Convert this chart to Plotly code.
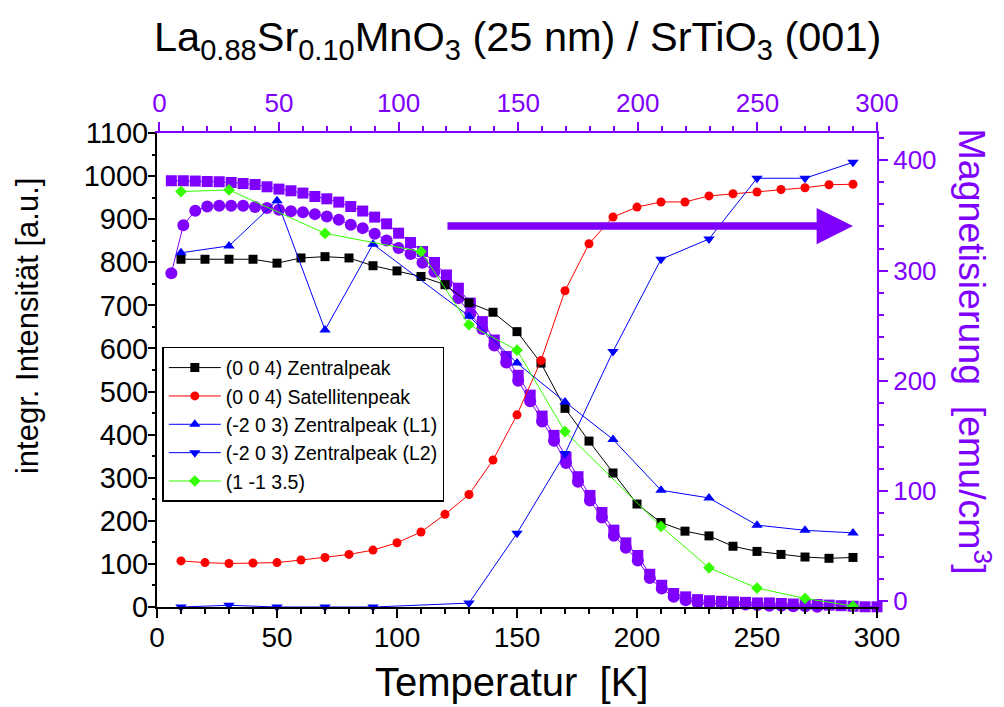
import plotly.graph_objects as go

# ---------------- data ----------------
T_black = [10, 20, 30, 40, 50, 60, 70, 80, 90, 100, 110, 120, 130, 140, 150, 160, 170, 180, 190, 200,
           210, 220, 230, 240, 250, 260, 270, 280, 290]
I_black = [807, 807, 807, 807, 798, 810, 813, 810, 792, 780, 767, 748, 706, 684, 639, 566, 461, 385, 311, 239,
           196, 176, 165, 141, 129, 122, 116, 113, 115]

T_red = [10, 20, 30, 40, 50, 60, 70, 80, 90, 100, 110, 120, 130, 140, 150, 160, 170, 180, 190, 200,
         210, 220, 230, 240, 250, 260, 270, 280, 290]
I_red = [107, 103, 101, 102, 103, 109, 115, 122, 132, 149, 174, 215, 261, 341, 446, 572, 734, 843, 905, 928,
         940, 940, 954, 959, 963, 969, 973, 980, 981]

T_L1 = [10, 30, 50, 70, 90, 130, 150, 170, 190, 210, 230, 250, 270, 290]
I_L1 = [822, 838, 943, 643, 842, 675, 566, 476, 389, 271, 253, 190, 178, 172]

T_L2 = [10, 30, 50, 70, 90, 130, 150, 170, 190, 210, 230, 250, 270, 290]
I_L2 = [0, 4, 0, 0, 0, 9, 171, 356, 593, 807, 854, 995, 995, 1032]

T_green = [10, 30, 70, 110, 130, 150, 170, 210, 230, 250, 270, 290]
I_green = [964, 968, 867, 825, 655, 596, 407, 187, 91, 44, 20, 2]

T_M = [5, 10, 15, 20, 25, 30, 35, 40, 45, 50, 55, 60, 65, 70, 75, 80, 85, 90, 95, 100,
       105, 110, 115, 120, 125, 130, 135, 140, 145, 150, 155, 160, 165, 170, 175, 180, 185, 190, 195, 200,
       205, 210, 215, 220, 225, 230, 235, 240, 245, 250, 255, 260, 265, 270, 275, 280, 285, 290, 295, 300]
M_square = [381.5, 381.5, 381.2, 380.8, 380.6, 379.9, 379.0, 378.1, 376.0, 373.9, 372.4, 370.3, 367.2, 365.1,
            362.1, 358.1, 354.0, 348.5, 342.4, 333.9, 325.4, 317.3, 307.3, 296.0, 284.0, 270.5, 253.7, 237.0,
            222.0, 205.0, 187.0, 168.0, 150.5, 130.5, 113.0, 96.0, 80.5, 64.5, 53.0, 41.5, 24.5, 14.5, 7.0,
            4.0, 1.5, 0.5, 0.0, -0.5, -1.0, -1.5, -1.5, -2.0, -2.5, -2.5, -3.0, -3.5, -4.0, -4.5, -5.0, -5.0]
M_circle = [297.6, 341.2, 354.2, 358.1, 358.8, 358.8, 358.8, 357.6, 356.7, 355.1, 353.9, 353.0, 351.2, 349.0,
            346.0, 341.5, 338.5, 333.3, 327.2, 320.5, 315.0, 307.0, 299.0, 288.0, 275.0, 261.0, 247.0, 232.0,
            216.5, 200.0, 181.5, 163.0, 145.5, 125.5, 108.5, 91.5, 76.0, 59.5, 48.5, 37.0, 21.0, 11.5, 4.0,
            1.0, -1.5, -2.0, -2.0, -2.5, -3.0, -3.5, -4.0, -4.0, -4.5, -4.5, -5.0, -5.5, -6.0, -6.5, -7.0, -6.5]

X_TICKS = [0, 50, 100, 150, 200, 250, 300]

# ---------------- style ----------------
PURPLE = '#8000FF'
FONT = 'Liberation Sans, Arial, sans-serif'

fig = go.Figure()

# magnetisation (drawn first -> behind)
fig.add_trace(go.Scatter(x=T_M, y=M_square, xaxis='x', yaxis='y', mode='lines+markers',
                         marker=dict(symbol='square', size=11, color=PURPLE),
                         line=dict(color=PURPLE, width=1), showlegend=False, cliponaxis=False))
fig.add_trace(go.Scatter(x=T_M, y=M_circle, xaxis='x', yaxis='y', mode='lines+markers',
                         marker=dict(symbol='circle', size=12, color=PURPLE),
                         line=dict(color=PURPLE, width=1), showlegend=False, cliponaxis=False))

series = [
    ('(0 0 4) Zentralpeak', T_black, I_black, 'black', 'square', 9),
    ('(0 0 4) Satellitenpeak', T_red, I_red, '#FF0000', 'circle', 9),
    ('(-2 0 3) Zentralpeak (L1)', T_L1, I_L1, '#0000FF', 'triangle-up', 10),
    ('(-2 0 3) Zentralpeak (L2)', T_L2, I_L2, '#0000FF', 'triangle-down', 10),
    ('(1 -1 3.5)', T_green, I_green, '#33FF00', 'diamond', 9),
]
for name, xs, ys, col, sym, sz in series:
    fig.add_trace(go.Scatter(x=xs, y=ys, xaxis='x2', yaxis='y2', mode='lines+markers', name=name,
                             marker=dict(symbol=sym, size=sz, color=col),
                             line=dict(color=col, width=1), cliponaxis=False))

def axis_style(color, fsize, ticklen, mticklen, dtick, mdtick):
    return dict(showline=True, linecolor=color, linewidth=2, ticks='outside', ticklen=ticklen,
                tickwidth=2, tickcolor=color, dtick=dtick, tick0=0,
                minor=dict(dtick=mdtick, ticks='outside', ticklen=mticklen, tickwidth=1.5, tickcolor=color),
                tickfont=dict(family=FONT, size=fsize, color=color),
                showgrid=False, zeroline=False, automargin=False)

xa = axis_style(PURPLE, 26, 9, 5, 50, 10)
xa.update(side='top', range=[-1, 300], tickvals=X_TICKS)
xa.pop('dtick'); xa.pop('tick0')
ya = axis_style(PURPLE, 26, 9, 5, 100, 20)
ya.update(side='right', range=[-5.2, 424.8])
xb = axis_style('black', 28, 9, 5, 50, 10)
xb.update(side='bottom', range=[0, 300], overlaying='x', ticklabelstandoff=-5)
yb = axis_style('black', 29, 7, 3.5, 100, 50)
yb.update(side='left', range=[0, 1100], overlaying='y', ticklabelstandoff=-6)

fig.update_layout(
    width=1004, height=707,
    margin=dict(l=157, r=127, t=133, b=100),
    paper_bgcolor='white', plot_bgcolor='white',
    font=dict(family=FONT, color='black'),
    xaxis=xa, yaxis=ya, xaxis2=xb, yaxis2=yb,
    showlegend=True,
    legend=dict(x=0.0074, y=0.5487, xanchor='left', yanchor='top',
                bordercolor='black', borderwidth=1.5, bgcolor='white',
                font=dict(family=FONT, size=19.5, color='black'), tracegroupgap=0,
                itemwidth=52),
    shapes=[dict(type='line', xref='paper', yref='paper', x0=1, x1=1, y0=1, y1=1.019,
                 line=dict(color=PURPLE, width=2))],
)

# arrow
fig.add_annotation(x=290, y=884, xref='x2', yref='y2', ax=120.4, ay=884, axref='x2', ayref='y2',
                   text='', showarrow=True, arrowhead=2, arrowwidth=7.5, arrowsize=0.97,
                   arrowcolor=PURPLE)

# titles
fig.add_annotation(text='La<sub>0.88</sub>Sr<sub>0.10</sub>MnO<sub>3</sub> (25 nm) / SrTiO<sub>3</sub> (001)',
                   xref='paper', yref='paper', x=0.501, y=1.197, xanchor='center', yanchor='middle',
                   showarrow=False, font=dict(family=FONT, size=41.5, color='black'))
fig.add_annotation(text='Temperatur&nbsp; [K]', xref='paper', yref='paper', x=0.492, y=-0.159,
                   xanchor='center', yanchor='middle', showarrow=False,
                   font=dict(family=FONT, size=40, color='black'))
fig.add_annotation(text='integr. Intensität [a.u.]', xref='paper', yref='paper', x=-0.179, y=0.593,
                   xanchor='center', yanchor='middle', textangle=-90, showarrow=False,
                   font=dict(family=FONT, size=31, color='black'))
fig.add_annotation(text='Magnetisierung&nbsp; [emu/cm<sup>3</sup>]', xref='paper', yref='paper',
                   x=1.136, y=0.539, xanchor='center', yanchor='middle', textangle=90, showarrow=False,
                   font=dict(family=FONT, size=37.5, color=PURPLE))

fig.write_html('out.html', post_script="document.body.style.margin='0';",
               config={'displayModeBar': False})
